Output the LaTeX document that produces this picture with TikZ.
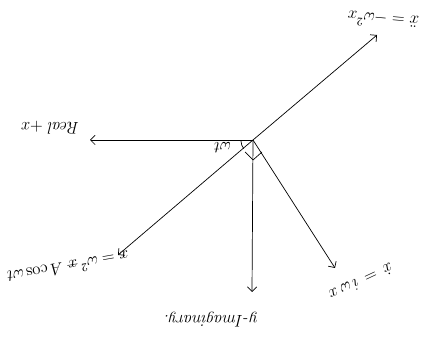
\documentclass[tikz,border=0pt]{standalone}
\usetikzlibrary{arrows.meta}
\newcommand{\strikex}{\makebox[0pt][l]{$x$}\rule[0.55ex]{0.6em}{0.4pt}}
\tikzset{
  vec/.style={line width=0.6pt,-{Straight Barb[length=4pt,width=8pt]}},
  anglemark/.style={line width=0.6pt},
  lbl/.style={font=\Large\itshape,inner sep=1pt},
}

\begin{document}
\begin{tikzpicture}[x=0.03cm,y=-0.03cm]
  \useasboundingbox (0,0) rectangle (422,349);
  % origin and arrow ends
  \coordinate (O) at (253,140);
  \coordinate (re) at (90,140);
  \coordinate (im) at (252,292);
  \coordinate (vel) at (335,268);
  \coordinate (acc) at (377,35);
  \coordinate (pos) at (118,255);
  \draw[vec] (O) -- (re);
  \draw[vec] (O) -- (im);
  \draw[vec] (O) -- (vel);
  \draw[vec] (O) -- (acc);
  \draw[vec] (O) -- (pos);
  % angle and right angle
  \draw[anglemark] (O) ++(-12,1) arc[start angle=180,end angle=140,radius=12];
  \draw[anglemark] (245,152) -- (253,160) -- (262,152);
  % labels (upside down)
  \node[lbl,rotate=180] (reL) at (50,128) {Real $+x$};
  \node[lbl,rotate=180] (wtL) at (222,148) {$\omega t$};
  \node[lbl,rotate=175] (accL) at (383,20) {$\ddot{x}=-\omega^{2}x$};
  \node[lbl,rotate=190] (posL) at (68,268) {$x=\omega^{2}$\,\strikex$\;A\cos\omega t$};
  \node[lbl,rotate=180] (imL) at (211,320) {$y$-Imaginary.};
  \node[lbl,rotate=205] (velL) at (361,282) {$\dot{x}\,=\,i\,\omega\,x$};
\end{tikzpicture}
\end{document}
